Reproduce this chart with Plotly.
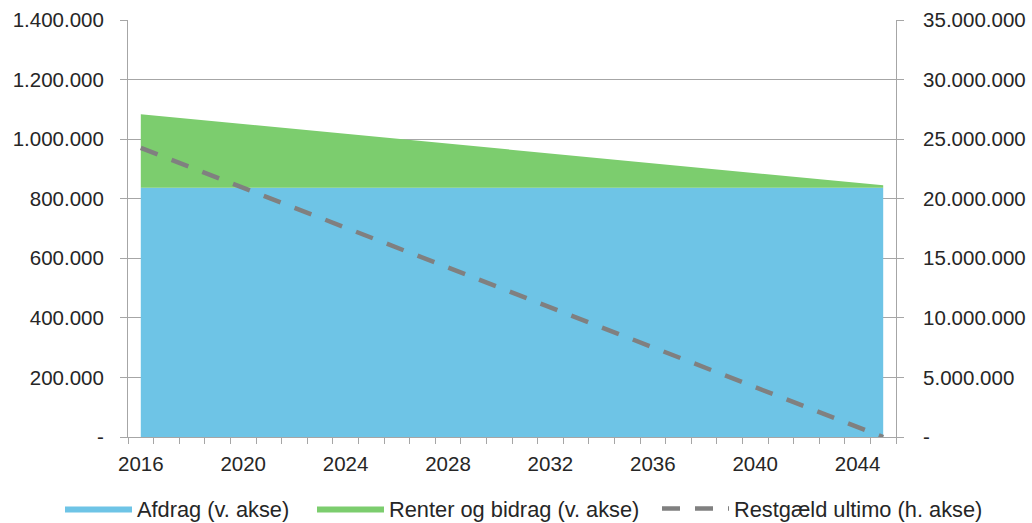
import plotly.graph_objects as go

# Serielån: årlige afdrag, renter og bidrag samt restgæld ultimo
years = [2016, 2017, 2018, 2019, 2020, 2021, 2022, 2023, 2024, 2025,
         2026, 2027, 2028, 2029, 2030, 2031, 2032, 2033, 2034, 2035,
         2036, 2037, 2038, 2039, 2040, 2041, 2042, 2043, 2044, 2045]

afdrag = [836700] * 30

renter_bidrag = [247000, 238800, 230500, 222300, 214000, 205800, 197600, 189300,
                 181100, 172800, 164600, 156400, 148100, 139900, 131600, 123400,
                 115200, 106900, 98700, 90400, 82200, 74000, 65700, 57500,
                 49200, 41000, 32800, 24500, 16300, 8200]

restgaeld = [24263000, 23427000, 22590000, 21753000, 20917000, 20080000,
             19243000, 18407000, 17570000, 16733000, 15897000, 15060000,
             14223000, 13387000, 12550000, 11713000, 10877000, 10040000,
             9203000, 8367000, 7530000, 6693000, 5857000, 5020000,
             4183000, 3347000, 2510000, 1673000, 837000, 0]

x_tick_years = [2016, 2020, 2024, 2028, 2032, 2036, 2040, 2044]

left_tickvals = [0, 200000, 400000, 600000, 800000, 1000000, 1200000, 1400000]
left_ticktext = ["-", "200.000", "400.000", "600.000", "800.000",
                 "1.000.000", "1.200.000", "1.400.000"]

right_tickvals = [0, 5000000, 10000000, 15000000, 20000000, 25000000,
                  30000000, 35000000]
right_ticktext = ["-", "5.000.000", "10.000.000", "15.000.000", "20.000.000",
                  "25.000.000", "30.000.000", "35.000.000"]

BLUE = "#6ec4e6"
GREEN = "#7ccd6e"
DASH_GREY = "#808080"
AXIS_GREY = "#a6a6a6"
TEXT = "#262626"
FONT = "Liberation Sans, Arial, sans-serif"

fig = go.Figure()

fig.add_trace(go.Scatter(
    x=years, y=afdrag, name="Afdrag (v. akse)",
    stackgroup="gaeld", mode="lines", legend="legend",
    line=dict(width=0, color=BLUE), fillcolor=BLUE,
    hoverinfo="x+y",
))
fig.add_trace(go.Scatter(
    x=years, y=renter_bidrag, name="Renter og bidrag (v. akse)",
    stackgroup="gaeld", mode="lines", legend="legend2",
    line=dict(width=0, color=GREEN), fillcolor=GREEN,
    hoverinfo="x+y",
))
fig.add_trace(go.Scatter(
    x=years, y=restgaeld, name="Restgæld ultimo (h. akse)",
    mode="lines", yaxis="y2", legend="legend3",
    line=dict(color=DASH_GREY, width=4.5, dash="18px,15px"),
))

# One legend box per series, laid out in a single row under the plot
legend_common = dict(
    orientation="h", xref="container", yref="container",
    xanchor="left", y=0.027, yanchor="middle",
    font=dict(family=FONT, size=21.8, color=TEXT),
    itemwidth=67, borderwidth=0, bgcolor="rgba(0,0,0,0)",
)

fig.update_layout(
    width=1032, height=523,
    margin=dict(l=128, r=136, t=20, b=86, autoexpand=False),
    paper_bgcolor="white", plot_bgcolor="white",
    font=dict(family=FONT, size=20.5, color=TEXT),
    showlegend=True,
    legend=dict(x=60 / 1032, **legend_common),
    legend2=dict(x=312 / 1032, **legend_common),
    legend3=dict(x=657 / 1032, **legend_common),
    xaxis=dict(
        range=[2015.5, 2045.5],
        tickmode="array", tickvals=x_tick_years,
        ticktext=[str(y) for y in x_tick_years],
        ticks="", showgrid=False, zeroline=False,
        showline=True, linecolor=AXIS_GREY, linewidth=1,
        ticklabelstandoff=8,
        minor=dict(tick0=2015.5, dtick=1, ticks="outside", ticklen=6,
                   tickcolor=AXIS_GREY, tickwidth=1, showgrid=False),
    ),
    yaxis=dict(
        range=[0, 1400000],
        tickmode="array", tickvals=left_tickvals, ticktext=left_ticktext,
        ticks="outside", ticklen=7, tickcolor=AXIS_GREY, tickwidth=1,
        showgrid=True, gridcolor=AXIS_GREY, gridwidth=1,
        zeroline=False, showline=True, linecolor=AXIS_GREY, linewidth=1,
        ticklabelstandoff=12,
    ),
    yaxis2=dict(
        range=[0, 35000000], overlaying="y", side="right",
        tickmode="array", tickvals=right_tickvals, ticktext=right_ticktext,
        ticks="outside", ticklen=7, tickcolor=AXIS_GREY, tickwidth=1,
        showgrid=False, zeroline=False,
        showline=True, linecolor=AXIS_GREY, linewidth=1,
        ticklabelstandoff=15,
    ),
)

fig.write_html("out.html")
